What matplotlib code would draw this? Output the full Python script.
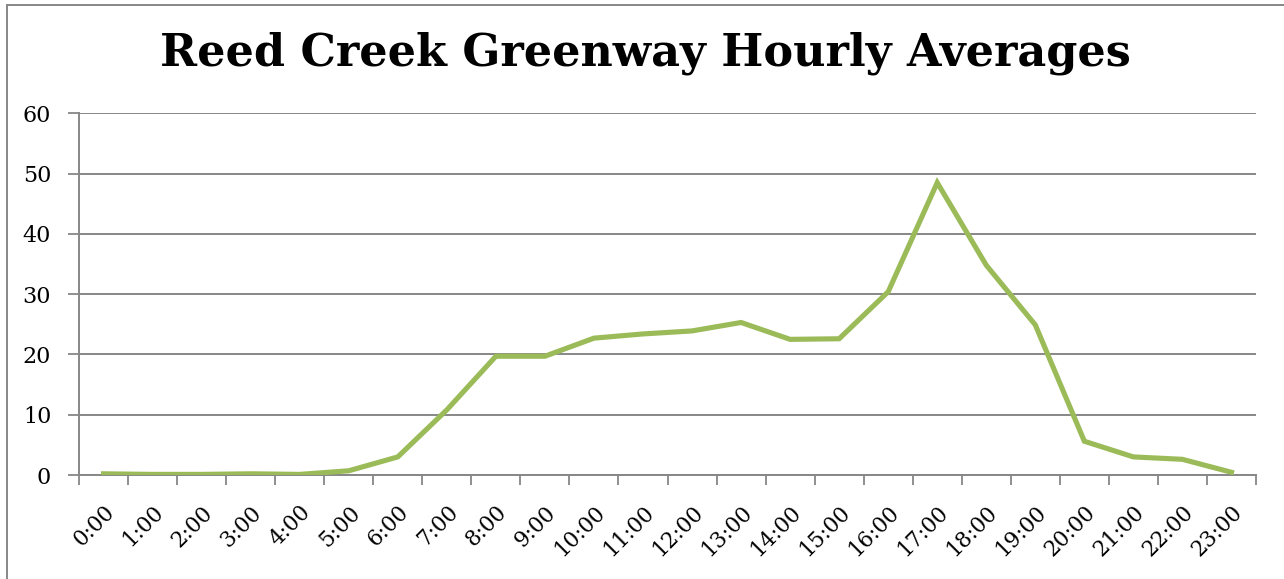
import matplotlib
matplotlib.use("Agg")
import matplotlib.pyplot as plt
from matplotlib.patches import Rectangle
import numpy as np

hours = [f"{h}:00" for h in range(24)]
averages = [0.2, 0.1, 0.1, 0.2, 0.1, 0.7, 3.0, 10.8, 19.7, 19.7, 22.7, 23.4,
            23.9, 25.3, 22.5, 22.6, 30.4, 48.5, 34.8, 24.9, 5.6, 3.0, 2.6, 0.45]
yticks = [0, 10, 20, 30, 40, 50, 60]
title = "Reed Creek Greenway Hourly Averages"

W, H = 1284, 579
fig = plt.figure(figsize=(W / 100, H / 100), dpi=100)
ax = fig.add_axes([79 / W, 1 - 475 / H, (1256 - 79) / W, (475 - 113.3) / H])

x = np.arange(len(hours))
ax.plot(x, averages, color="#9BBB59", lw=3.7, solid_joinstyle="miter", zorder=3)

ax.set_xlim(-0.5, len(hours) - 0.5)
ax.set_ylim(0, 60)
ax.set_yticks(yticks)
ax.set_yticklabels([str(v) for v in yticks], fontsize=16, family="DejaVu Serif")
ax.yaxis.grid(True, color="#878787", lw=1.4)
ax.set_axisbelow(True)

ax.set_xticks(x)
ax.set_xticklabels(hours, rotation=45, ha="right", rotation_mode="anchor",
                   fontsize=15.5, family="DejaVu Serif")
ax.tick_params(axis="x", which="major", length=0, pad=19)
ax.set_xticks(np.arange(-0.5, len(hours), 1), minor=True)
ax.tick_params(axis="x", which="minor", length=7, width=1.3, color="#878787", direction="out")
ax.tick_params(axis="y", length=8, width=1.3, color="#878787", pad=12)

for s in ["top", "right"]:
    ax.spines[s].set_visible(False)
for s in ["left", "bottom"]:
    ax.spines[s].set_color("#878787")
    ax.spines[s].set_linewidth(1.4)

fig.text(645 / W, 1 - 53 / H, title, ha="center", va="center",
         fontsize=32, fontweight="bold", family="DejaVu Serif")

fig.patches.append(Rectangle((7 / W, -0.1), 1.2, 1 - 5 / H + 0.1, transform=fig.transFigure,
                             fill=False, edgecolor="#878787", lw=1.4))

fig.savefig("out.png", dpi=100)
